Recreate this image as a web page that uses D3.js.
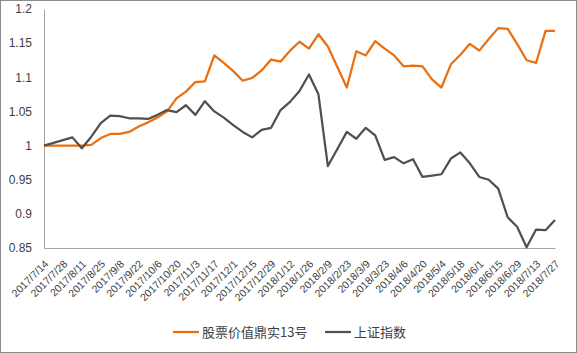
<!DOCTYPE html>
<html>
<head>
<meta charset="utf-8">
<script src="https://cdn.jsdelivr.net/npm/d3@7/dist/d3.min.js"></script>
<style>
	body { margin: 0; background: #fff; }
	.axis path { stroke: #a6a6a6; }
	.axis text { fill: #404040; font-family: "Liberation Sans", Arial, sans-serif; }
	.legend text { fill: #404040; font-family: "Noto Sans CJK SC", sans-serif; font-size: 13px; }
</style>
</head>
<body>
<svg class="chart"></svg>
<script>
// weekly dates (category axis)
var dates = [
	"2017/7/14","2017/7/21","2017/7/28","2017/8/4","2017/8/11","2017/8/18","2017/8/25",
	"2017/9/1","2017/9/8","2017/9/15","2017/9/22","2017/9/29","2017/10/6","2017/10/13",
	"2017/10/20","2017/10/27","2017/11/3","2017/11/10","2017/11/17","2017/11/24","2017/12/1",
	"2017/12/8","2017/12/15","2017/12/22","2017/12/29","2018/1/5","2018/1/12","2018/1/19",
	"2018/1/26","2018/2/2","2018/2/9","2018/2/16","2018/2/23","2018/3/2","2018/3/9",
	"2018/3/16","2018/3/23","2018/3/30","2018/4/6","2018/4/13","2018/4/20","2018/4/27",
	"2018/5/4","2018/5/11","2018/5/18","2018/5/25","2018/6/1","2018/6/8","2018/6/15",
	"2018/6/22","2018/6/29","2018/7/6","2018/7/13","2018/7/20","2018/7/27"
];

// 股票价值鼎实13号 (net value)
var fundValues = [
	1.000,1.000,1.000,1.000,1.000,1.001,1.011,1.017,1.017,1.020,
	1.028,1.034,1.041,1.050,1.069,1.079,1.093,1.094,1.132,1.121,
	1.109,1.095,1.099,1.110,1.126,1.123,1.139,1.152,1.142,1.163,
	1.145,1.115,1.085,1.138,1.132,1.153,1.142,1.132,1.116,1.117,
	1.116,1.097,1.085,1.119,1.133,1.149,1.139,1.156,1.172,1.171,
	1.149,1.125,1.121,1.168,1.168
];

// 上证指数 (normalised)
var indexValues = [
	1.000,1.004,1.008,1.012,0.996,1.013,1.033,1.044,1.043,1.040,
	1.040,1.039,1.045,1.052,1.049,1.059,1.045,1.065,1.050,1.041,
	1.030,1.020,1.012,1.023,1.026,1.052,1.064,1.080,1.104,1.075,
	0.970,0.995,1.020,1.010,1.026,1.015,0.979,0.983,0.974,0.980,
	0.954,0.956,0.958,0.981,0.990,0.974,0.954,0.950,0.937,0.895,
	0.881,0.851,0.877,0.876,0.891
];

var seriesNames = ["股票价值鼎实13号", "上证指数"];
var seriesColors = ["#eb6f0f", "#505050"];
var yTicks = [0.85, 0.9, 0.95, 1, 1.05, 1.1, 1.15, 1.2];

var width = 577, height = 353;
var plotLeft = 44, plotRight = 555, plotTop = 9, plotBottom = 248;

var svg = d3.select(".chart")
	.attr("width", width)
	.attr("height", height);

// outer frame
svg.append("rect")
	.attr("x", 0.5).attr("y", 0.5)
	.attr("width", width - 1).attr("height", height - 1)
	.attr("fill", "#fff")
	.attr("stroke", "#8c8c8c");

var x = d3.scalePoint()
	.domain(dates)
	.range([plotLeft, plotRight]);

var y = d3.scaleLinear()
	.domain([0.85, 1.2])
	.range([plotBottom, plotTop]);

// y axis
var yAxis = d3.axisLeft(y)
	.tickValues(yTicks)
	.tickSize(0)
	.tickSizeOuter(0)
	.tickPadding(12)
	.tickFormat(function(d) { return String(d); });

svg.append("g")
	.attr("class", "y axis")
	.attr("transform", "translate(" + plotLeft + ",0)")
	.call(yAxis)
	.selectAll("text")
	.style("font-size", "12px");

// x axis, every other week labelled
var xAxis = d3.axisBottom(x)
	.tickValues(dates.filter(function(d, i) { return i % 2 === 0; }))
	.tickSize(0)
	.tickSizeOuter(0);

var gx = svg.append("g")
	.attr("class", "x axis")
	.attr("transform", "translate(0," + plotBottom + ")")
	.call(xAxis);

gx.selectAll("text")
	.style("font-size", "10.5px")
	.attr("text-anchor", "end")
	.attr("y", 0)
	.attr("dy", "0.35em")
	.attr("transform", "translate(2,14) rotate(-45)");

// lines
var line = d3.line()
	.x(function(d, i) { return x(dates[i]); })
	.y(function(d) { return y(d); });

[fundValues, indexValues].forEach(function(vals, k) {
	svg.append("path")
		.datum(vals)
		.attr("fill", "none")
		.attr("stroke", seriesColors[k])
		.attr("stroke-width", 2.25)
		.attr("stroke-linejoin", "round")
		.attr("d", line);
});

// legend
var legendX = [173, 325];
var legend = svg.append("g").attr("class", "legend");
seriesNames.forEach(function(name, k) {
	var g = legend.append("g")
		.attr("transform", "translate(" + legendX[k] + ",332)");
	g.append("line")
		.attr("x1", 0).attr("x2", 26)
		.attr("stroke", seriesColors[k])
		.attr("stroke-width", 2.25);
	g.append("text")
		.attr("x", 29)
		.attr("dy", "0.36em")
		.text(name);
});
</script>
</body>
</html>
